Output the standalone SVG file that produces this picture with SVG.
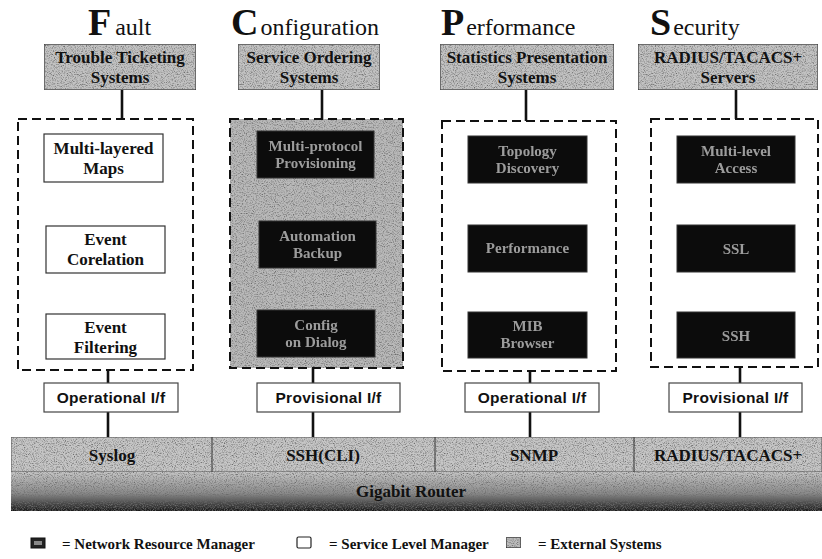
<svg xmlns="http://www.w3.org/2000/svg" width="822" height="559" viewBox="0 0 822 559">
  <defs>
    <!-- speckled grey texture for external systems and the router -->
    <filter id="grain" x="0" y="0" width="100%" height="100%">
      <feTurbulence type="fractalNoise" baseFrequency="0.9" numOctaves="2" seed="7" result="n"/>
      <feColorMatrix in="n" type="matrix" values="0 0 0 0 0.15  0 0 0 0 0.15  0 0 0 0 0.15  -2.6 0 0 0 1.45" result="specks"/>
      <feComposite in="specks" in2="SourceAlpha" operator="in" result="sp"/>
      <feMerge><feMergeNode in="SourceGraphic"/><feMergeNode in="sp"/></feMerge>
    </filter>
    <filter id="smudge" x="-5%" y="-20%" width="110%" height="140%">
      <feGaussianBlur stdDeviation="0.5"/>
    </filter>
    <linearGradient id="routerGrad" x1="0" y1="0" x2="0" y2="1">
      <stop offset="0" stop-color="#c4c4c4"/>
      <stop offset="0.55" stop-color="#8a8a8a"/>
      <stop offset="1" stop-color="#1a1a1a"/>
    </linearGradient>
    <style>
      .cap { font-family: "Liberation Serif", serif; font-weight: bold; font-size: 38px; fill: #111; }
      .rest { font-family: "Liberation Serif", serif; font-size: 24px; fill: #111; }
      .ext { fill: #c2c2c2; stroke: #333; stroke-width: 1.2; }
      .lbl { font-family: "Liberation Serif", serif; font-weight: bold; font-size: 17px; fill: #111; text-anchor: middle; }
      .slm { fill: #fff; stroke: #333; stroke-width: 1.2; }
      .nrm { fill: #0c0c0c; stroke: #333; stroke-width: 1; }
      .nrmtxt { font-family: "Liberation Serif", serif; font-weight: bold; font-size: 15px; fill: #9c9c9c; text-anchor: middle; }
      .grp { fill: none; stroke: #111; stroke-width: 2; stroke-dasharray: 9 5; }
      .ifbox { fill: #fff; stroke: #444; stroke-width: 1.2; }
      .iftxt { font-family: "Liberation Sans", Arial, sans-serif; font-weight: bold; font-size: 15.5px; fill: #111; text-anchor: middle; letter-spacing: 0.3px; }
      .wire { stroke: #111; stroke-width: 2.6; fill: none; }
      .leg { font-family: "Liberation Serif", serif; font-weight: bold; font-size: 15px; fill: #111; }
    </style>
  </defs>

  <rect width="822" height="559" fill="#fff"/>

  <!-- column titles -->
  <g id="titles">
    <text x="88" y="35"><tspan class="cap">F</tspan><tspan class="rest" dx="4">ault</tspan></text>
    <text x="231" y="35"><tspan class="cap">C</tspan><tspan class="rest" dx="2">onfiguration</tspan></text>
    <text x="441" y="35"><tspan class="cap">P</tspan><tspan class="rest" dx="2">erformance</tspan></text>
    <text x="650" y="35"><tspan class="cap">S</tspan><tspan class="rest" dx="2">ecurity</tspan></text>
  </g>

  <!-- connectors -->
  <g id="connectors">
    <line class="wire" x1="122" y1="90" x2="122" y2="119"/>
    <line class="wire" x1="322" y1="90" x2="322" y2="119"/>
    <line class="wire" x1="526" y1="90" x2="526" y2="121"/>
    <line class="wire" x1="736" y1="90" x2="736" y2="119"/>

    <line class="wire" x1="108" y1="370" x2="108" y2="383"/>
    <line class="wire" x1="313" y1="368" x2="313" y2="383"/>
    <line class="wire" x1="530" y1="371" x2="530" y2="383"/>
    <line class="wire" x1="740" y1="367" x2="740" y2="383"/>

    <line class="wire" x1="108" y1="412" x2="108" y2="437"/>
    <line class="wire" x1="313" y1="412" x2="313" y2="437"/>
    <line class="wire" x1="530" y1="412" x2="530" y2="437"/>
    <line class="wire" x1="740" y1="412" x2="740" y2="437"/>
  </g>

  <!-- external systems -->
  <g id="trouble-ticketing">
    <rect class="ext" x="44" y="44" width="152" height="46" filter="url(#grain)"/>
    <text class="lbl" x="120" y="63">Trouble Ticketing</text>
    <text class="lbl" x="120" y="83">Systems</text>
  </g>
  <g id="service-ordering">
    <rect class="ext" x="238" y="44" width="142" height="46" filter="url(#grain)"/>
    <text class="lbl" x="309" y="63">Service Ordering</text>
    <text class="lbl" x="309" y="83">Systems</text>
  </g>
  <g id="statistics-presentation">
    <rect class="ext" x="440" y="44" width="174" height="46" filter="url(#grain)"/>
    <text class="lbl" x="527" y="63">Statistics Presentation</text>
    <text class="lbl" x="527" y="83">Systems</text>
  </g>
  <g id="radius-servers">
    <rect class="ext" x="638" y="44" width="180" height="46" filter="url(#grain)"/>
    <text class="lbl" x="728" y="63">RADIUS/TACACS+</text>
    <text class="lbl" x="728" y="83">Servers</text>
  </g>

  <!-- fault management -->
  <g id="fault-group">
    <rect class="grp" x="18" y="119" width="175" height="251"/>
  </g>
  <g id="multi-layered-maps">
    <rect class="slm" x="44" y="134" width="119" height="48"/>
    <text class="lbl" x="103.5" y="154">Multi-layered</text>
    <text class="lbl" x="103.5" y="174">Maps</text>
  </g>
  <g id="event-corelation">
    <rect class="slm" x="46" y="226" width="119" height="47"/>
    <text class="lbl" x="105.5" y="245">Event</text>
    <text class="lbl" x="105.5" y="265">Corelation</text>
  </g>
  <g id="event-filtering">
    <rect class="slm" x="46" y="314" width="119" height="45"/>
    <text class="lbl" x="105.5" y="333">Event</text>
    <text class="lbl" x="105.5" y="353">Filtering</text>
  </g>

  <!-- configuration management -->
  <g id="configuration-group">
    <rect x="230" y="119" width="173" height="249" fill="#b9b9b9" filter="url(#grain)"/>
    <rect class="grp" x="230" y="119" width="173" height="249"/>
  </g>
  <g id="multi-protocol">
    <rect class="nrm" x="257" y="131" width="117" height="47"/>
    <g filter="url(#smudge)">
      <text class="nrmtxt" x="315.5" y="151">Multi-protocol</text>
      <text class="nrmtxt" x="315.5" y="168">Provisioning</text>
    </g>
  </g>
  <g id="automation">
    <rect class="nrm" x="259" y="221" width="117" height="47"/>
    <g filter="url(#smudge)">
      <text class="nrmtxt" x="317.5" y="241">Automation</text>
      <text class="nrmtxt" x="317.5" y="258">Backup</text>
    </g>
  </g>
  <g id="config-dialog">
    <rect class="nrm" x="257" y="310" width="118" height="47"/>
    <g filter="url(#smudge)">
      <text class="nrmtxt" x="316" y="330">Config</text>
      <text class="nrmtxt" x="316" y="347">on Dialog</text>
    </g>
  </g>

  <!-- performance management -->
  <g id="performance-group">
    <rect class="grp" x="442" y="121" width="174" height="250"/>
  </g>
  <g id="topology">
    <rect class="nrm" x="468" y="136" width="119" height="47"/>
    <g filter="url(#smudge)">
      <text class="nrmtxt" x="527.5" y="156">Topology</text>
      <text class="nrmtxt" x="527.5" y="173">Discovery</text>
    </g>
  </g>
  <g id="performance">
    <rect class="nrm" x="468" y="225" width="119" height="47"/>
    <g filter="url(#smudge)">
      <text class="nrmtxt" x="527.5" y="253">Performance</text>
    </g>
  </g>
  <g id="mib">
    <rect class="nrm" x="468" y="312" width="119" height="46"/>
    <g filter="url(#smudge)">
      <text class="nrmtxt" x="527.5" y="331">MIB</text>
      <text class="nrmtxt" x="527.5" y="348">Browser</text>
    </g>
  </g>

  <!-- security management -->
  <g id="security-group">
    <rect class="grp" x="651" y="119" width="167" height="248"/>
  </g>
  <g id="multi-level">
    <rect class="nrm" x="677" y="136" width="118" height="47"/>
    <g filter="url(#smudge)">
      <text class="nrmtxt" x="736" y="156">Multi-level</text>
      <text class="nrmtxt" x="736" y="173">Access</text>
    </g>
  </g>
  <g id="ssl">
    <rect class="nrm" x="677" y="225" width="118" height="47"/>
    <g filter="url(#smudge)">
      <text class="nrmtxt" x="736" y="254" font-size="17px">SSL</text>
    </g>
  </g>
  <g id="ssh">
    <rect class="nrm" x="677" y="312" width="118" height="46"/>
    <g filter="url(#smudge)">
      <text class="nrmtxt" x="736" y="341" font-size="17px">SSH</text>
    </g>
  </g>

  <!-- interfaces -->
  <g id="operational-if-fault">
    <rect class="ifbox" x="44" y="383" width="134" height="29"/>
    <text class="iftxt" x="111" y="403">Operational I/f</text>
  </g>
  <g id="provisional-if-config">
    <rect class="ifbox" x="257" y="383" width="143" height="29"/>
    <text class="iftxt" x="328.5" y="403">Provisional I/f</text>
  </g>
  <g id="operational-if-perf">
    <rect class="ifbox" x="465" y="383" width="134" height="29"/>
    <text class="iftxt" x="532" y="403">Operational I/f</text>
  </g>
  <g id="provisional-if-security">
    <rect class="ifbox" x="669" y="383" width="133" height="29"/>
    <text class="iftxt" x="735.5" y="403">Provisional I/f</text>
  </g>

  <!-- protocol layer -->
  <g id="protocols">
    <rect x="11" y="437" width="811" height="35" fill="#c6c6c6" stroke="#555" stroke-width="1" filter="url(#grain)"/>
    <line x1="212" y1="437" x2="212" y2="472" stroke="#333" stroke-width="1"/>
    <line x1="435" y1="437" x2="435" y2="472" stroke="#333" stroke-width="1"/>
    <line x1="634" y1="437" x2="634" y2="472" stroke="#333" stroke-width="1"/>
    <text class="lbl" x="112" y="461">Syslog</text>
    <text class="lbl" x="323" y="461">SSH(CLI)</text>
    <text class="lbl" x="534" y="461">SNMP</text>
    <text class="lbl" x="728" y="461">RADIUS/TACACS+</text>
  </g>

  <g id="gigabit-router">
    <rect x="11" y="472" width="811" height="39" fill="url(#routerGrad)" filter="url(#grain)"/>
    <text class="lbl" x="411" y="497">Gigabit Router</text>
  </g>

  <!-- legend -->
  <g id="legend">
    <rect x="31" y="538" width="14" height="10" fill="#222" stroke="#111" stroke-width="1"/>
    <rect x="34" y="541" width="8" height="4" fill="#888"/>
    <text class="leg" x="62" y="549">= Network Resource Manager</text>
    <rect x="297" y="537" width="14" height="11" rx="1.5" fill="#fff" stroke="#222" stroke-width="1.2"/>
    <text class="leg" x="329" y="549">= Service Level Manager</text>
    <rect x="506" y="537" width="15" height="11" fill="#bbb" stroke="#222" stroke-width="1.2" filter="url(#grain)"/>
    <text class="leg" x="538" y="549">= External Systems</text>
  </g>
</svg>
